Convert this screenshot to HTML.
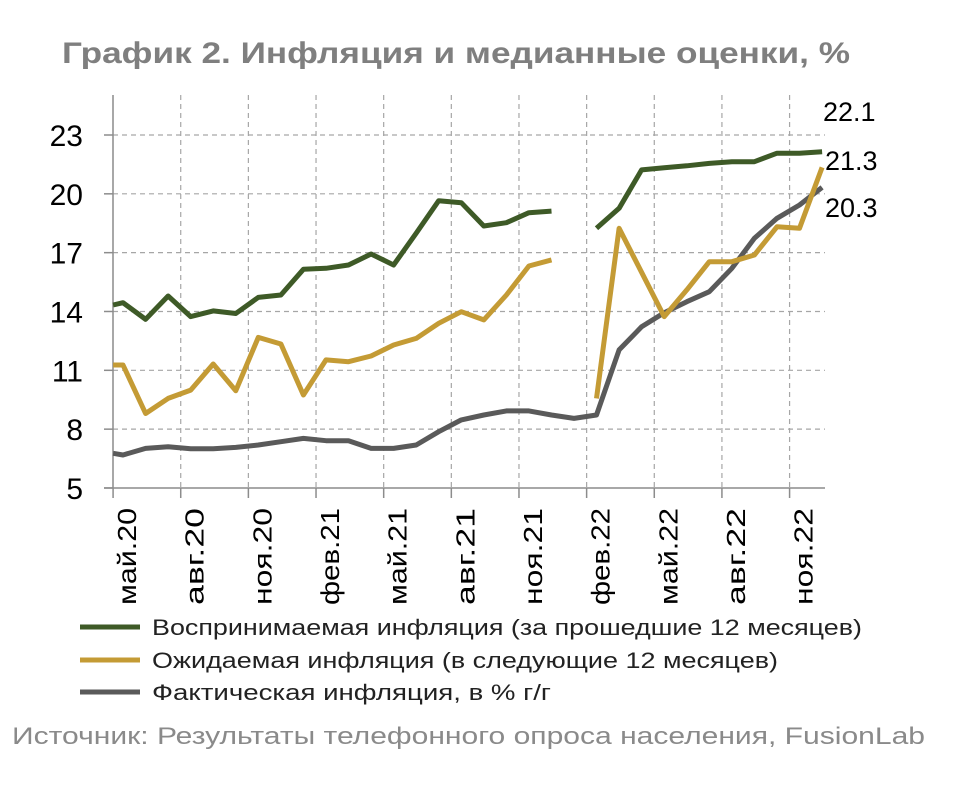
<!DOCTYPE html>
<html><head><meta charset="utf-8"><style>
body{margin:0;background:#fff;width:959px;height:800px;overflow:hidden;font-family:"Liberation Sans","DejaVu Sans",sans-serif;}
</style></head><body>
<svg id="chart" width="959" height="800" xmlns="http://www.w3.org/2000/svg" font-family="Liberation Sans, DejaVu Sans, sans-serif">
<text x="62" y="63" font-size="30" font-weight="bold" fill="#7f7f7f" textLength="788" lengthAdjust="spacingAndGlyphs">График 2. Инфляция и медианные оценки, %</text>
<g id="grid"></g><g id="axes"></g><g id="series"></g>
<text x="823" y="121" font-size="27" fill="#000">22.1</text>
<text x="825" y="170" font-size="27" fill="#000">21.3</text>
<text x="825" y="217" font-size="27" fill="#000">20.3</text>
<g>
<line x1="80" y1="627" x2="140" y2="627" stroke="#3e5a27" stroke-width="5"/>
<text x="152" y="635" font-size="22" fill="#222" textLength="710" lengthAdjust="spacingAndGlyphs">Воспринимаемая инфляция (за прошедшие 12 месяцев)</text>
<line x1="80" y1="660" x2="140" y2="660" stroke="#c49b35" stroke-width="5"/>
<text x="152" y="668" font-size="22" fill="#222" textLength="626" lengthAdjust="spacingAndGlyphs">Ожидаемая инфляция (в следующие 12 месяцев)</text>
<line x1="80" y1="692" x2="140" y2="692" stroke="#5a5a5a" stroke-width="5"/>
<text x="152" y="700" font-size="22" fill="#222" textLength="399" lengthAdjust="spacingAndGlyphs">Фактическая инфляция, в % г/г</text>
</g>
<text x="12" y="744" font-size="24" fill="#8a8a8a" textLength="913" lengthAdjust="spacingAndGlyphs">Источник: Результаты телефонного опроса населения, FusionLab</text>
</svg>
<script>
const months=[-0.44,0,1,2,3,4,5,6,7,8,9,10,11,12,13,14,15,16,17,18,19,20,21,22,23,24,25,26,27,28,29,30,31];
const perceived=[14.33,14.45,13.6,14.79,13.74,14.03,13.9,14.72,14.84,16.15,16.2,16.37,16.93,16.37,17.99,19.65,19.55,18.36,18.53,19.04,19.12,null,18.24,19.26,21.22,21.33,21.43,21.55,21.64,21.64,22.07,22.07,22.15];
const expected=[11.27,11.27,8.8,9.57,9.99,11.32,9.96,12.68,12.34,9.74,11.53,11.44,11.73,12.29,12.63,13.4,13.99,13.57,14.84,16.32,16.63,null,9.57,18.24,16.0,13.74,15.1,16.54,16.54,16.88,18.32,18.24,21.35];
const actual=[6.77,6.68,7.02,7.1,7.0,7.0,7.07,7.19,7.36,7.53,7.41,7.41,7.02,7.02,7.19,7.87,8.47,8.72,8.93,8.93,8.72,8.55,8.72,12.04,13.22,13.94,14.5,15.01,16.2,17.73,18.75,19.43,20.33];
const yTicks=[5,8,11,14,17,20,23];
const xTickLabels=["май.20","авг.20","ноя.20","фев.21","май.21","авг.21","ноя.21","фев.22","май.22","авг.22","ноя.22"];
const xTickMonths=[-0.44,2.56,5.56,8.56,11.56,14.56,17.56,20.56,23.56,26.56,29.56];
const NS="http://www.w3.org/2000/svg";
const x=m=>123+22.55*m;
const y=v=>135+(23-v)*19.61;
function mk(tag,attrs,parent){const e=document.createElementNS(NS,tag);for(const k in attrs)e.setAttribute(k,attrs[k]);parent.appendChild(e);return e;}
const grid=document.getElementById('grid'),axes=document.getElementById('axes'),ser=document.getElementById('series');
yTicks.forEach(t=>{
  if(t>5){const l=mk('line',{x1:113,x2:825,y1:y(t),y2:y(t),stroke:'#a6a6a6','stroke-width':1.2,'stroke-dasharray':'5,4'},grid);
  
  }
  mk('line',{x1:104,x2:113,y1:y(t),y2:y(t),stroke:'#8c8c8c','stroke-width':1.5},axes);
  const tx=mk('text',{x:83,y:y(t)+11,'text-anchor':'end','font-size':30,fill:'#000'},axes);
  
  
  tx.textContent=t;
});
xTickMonths.forEach((m,i)=>{
  const xx=x(m);
  if(i>0){const l=mk('line',{x1:xx,x2:xx,y1:95,y2:488,stroke:'#a6a6a6','stroke-width':1.2,'stroke-dasharray':'5,4'},grid);
  
  }
  mk('line',{x1:xx,x2:xx,y1:488,y2:498,stroke:'#8c8c8c','stroke-width':1.5},axes);
  const tx=mk('text',{x:0,y:0,'text-anchor':'end','font-size':26,fill:'#000',textLength:97,lengthAdjust:'spacingAndGlyphs',transform:`translate(${xx+23},508) rotate(-90)`},axes);
  
  
  tx.textContent=xTickLabels[i];
});
const ya=mk('line',{x1:113,x2:113,y1:95,y2:488,stroke:'#8c8c8c','stroke-width':1.5},axes);


const xa=mk('line',{x1:104,x2:825,y1:488,y2:488,stroke:'#8c8c8c','stroke-width':1.5},axes);


function path(vals){let d='',pen=false;vals.forEach((v,i)=>{if(v==null){pen=false;return;}d+=(pen?'L':'M')+x(months[i]).toFixed(1)+','+y(v).toFixed(1);pen=true;});return d;}
const p3=mk('path',{d:path(actual),fill:'none',stroke:'#5a5a5a','stroke-width':5,'stroke-linejoin':'round'},ser);


const p2=mk('path',{d:path(expected),fill:'none',stroke:'#c49b35','stroke-width':5,'stroke-linejoin':'round'},ser);


const p1=mk('path',{d:path(perceived),fill:'none',stroke:'#3e5a27','stroke-width':5,'stroke-linejoin':'round'},ser);


</script>
</body></html>
